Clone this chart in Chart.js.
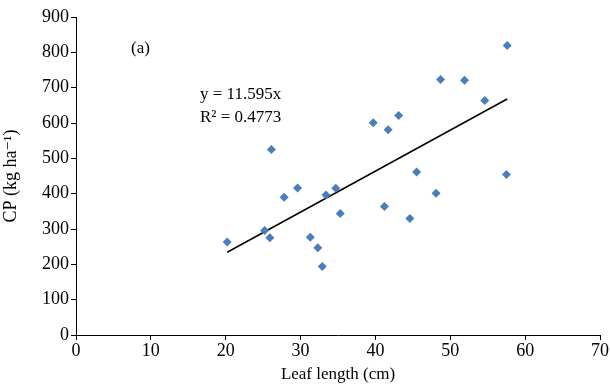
<!DOCTYPE html>
<html>
<head>
<meta charset="utf-8">
<script src="https://cdn.jsdelivr.net/npm/chart.js@4.4.0/dist/chart.umd.min.js"></script>
<style>
  html, body { margin: 0; padding: 0; background: #fff; }
  #wrap { width: 610px; height: 387px; }
</style>
</head>
<body>
<div id="wrap"><canvas id="chart" width="610" height="387"></canvas></div>
<script>
// leaf length (cm) and CP (kg/ha)
var leafLength = [20.2, 25.2, 25.9, 26.1, 27.8, 29.6, 31.3, 32.3, 32.9, 33.4, 34.7, 35.3,
                  39.7, 41.7, 41.2, 43.1, 44.6, 45.5, 48.1, 48.7, 51.9, 54.6, 57.6, 57.5];
var cpValues = [263, 296, 275, 525, 390, 416, 277, 247, 194, 396, 415, 344,
                601, 581, 364, 621, 330, 461, 401, 723, 721, 664, 819, 454];
var slope = 11.595;
var xTicks = [0, 10, 20, 30, 40, 50, 60, 70];
var yTicks = [0, 100, 200, 300, 400, 500, 600, 700, 800, 900];

var points = leafLength.map(function (x, i) { return { x: x, y: cpValues[i] }; });
var xMin = Math.min.apply(null, leafLength);
var xMax = Math.max.apply(null, leafLength);
var trend = [{ x: xMin, y: slope * xMin }, { x: xMax, y: slope * xMax }];

var serif = "'Liberation Serif', 'DejaVu Serif', serif";

// annotation text (panel label and regression equation)
var notes = {
  id: 'notes',
  afterDraw: function (chart) {
    var ctx = chart.ctx;
    ctx.save();
    ctx.fillStyle = '#000';
    ctx.font = '17px ' + serif;
    ctx.textBaseline = 'alphabetic';
    ctx.fillText('(a)', 131, 53);
    ctx.fillText('y = 11.595x', 200, 99);
    ctx.fillText('R\u00b2 = 0.4773', 200, 122);
    ctx.restore();
  }
};

new Chart(document.getElementById('chart'), {
  type: 'scatter',
  data: {
    datasets: [
      {
        label: 'CP',
        data: points,
        pointStyle: 'rectRot',
        pointRadius: 4.5,
        backgroundColor: '#4a7ebb',
        borderColor: '#4a7ebb',
        borderWidth: 0
      },
      {
        type: 'line',
        label: 'Linear',
        data: trend,
        borderColor: '#000',
        borderWidth: 1.5,
        pointRadius: 0,
        fill: false
      }
    ]
  },
  options: {
    responsive: false,
    animation: false,
    layout: { padding: { left: 0, right: 10, top: 17, bottom: 0 } },
    plugins: {
      legend: { display: false },
      tooltip: { enabled: false }
    },
    scales: {
      x: {
        type: 'linear',
        min: 0, max: 70,
        afterBuildTicks: function (s) { s.ticks = xTicks.map(function (v) { return { value: v }; }); },
        grid: { drawOnChartArea: false, drawTicks: true, tickLength: 5, color: '#000' },
        border: { color: '#000', width: 1 },
        ticks: { color: '#000', font: { family: serif, size: 18 }, padding: 0, maxRotation: 0 },
        title: { display: true, text: 'Leaf length (cm)', color: '#000', font: { family: serif, size: 17 }, padding: { top: 0, bottom: 2 } },
        afterFit: function (s) { s.height = 52; }
      },
      y: {
        type: 'linear',
        min: 0, max: 900,
        afterBuildTicks: function (s) { s.ticks = yTicks.map(function (v) { return { value: v }; }); },
        grid: { drawOnChartArea: false, drawTicks: true, tickLength: 5, color: '#000' },
        border: { color: '#000', width: 1 },
        ticks: { color: '#000', font: { family: serif, size: 18 }, padding: 2 },
        title: { display: true, text: 'CP (kg ha\u207b\u00b9)', color: '#000', font: { family: serif, size: 18 }, padding: { top: 0, bottom: 2 } },
        afterFit: function (s) { s.width = 76; }
      }
    }
  },
  plugins: [notes]
});
</script>
</body>
</html>
